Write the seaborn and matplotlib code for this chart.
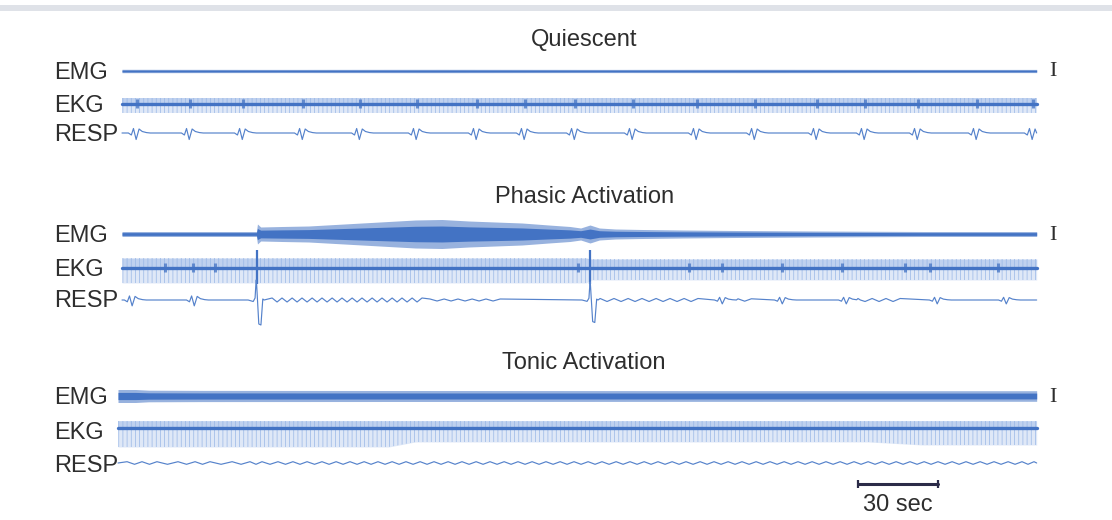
import numpy as np
import pandas as pd
import seaborn as sns
import matplotlib.pyplot as plt

# 기록 길이 (초) - 30 sec 스케일바 기준
t_end = 343
scale_bar_sec = 30

# ---------------- Quiescent ----------------
emg_q_t = [0, 60, 120, 180, 240, 300, 343]
emg_q_amp = [1.7, 1.6, 1.7, 1.6, 1.7, 1.6, 1.6]

ekg_q_t = [0, 343]
ekg_q_top = [6.5, 6.5]
ekg_q_bot = [8.5, 8.5]

resp_q_breaths = [5.6, 25.5, 45.4, 67.9, 89.3, 110.6, 133.1, 151.1, 169.9,
                  191.6, 215.6, 237.4, 260.6, 278.6, 298.5, 320.6, 341.6]
resp_q_amp = [1.0, 1.0, 1.0, 1.0, 1.0, 1.0, 1.0, 1.0, 1.0,
              1.0, 1.0, 1.0, 1.0, 1.0, 1.0, 1.0, 1.0]
ekg_q_marks = resp_q_breaths

# ---------------- Phasic Activation ----------------
emg_p_t = [0, 29, 48, 50.4, 50.8, 52, 60, 70, 80, 90, 100, 110, 120, 130, 140,
           150, 160, 168, 172, 175.5, 179, 185, 195, 210, 230, 260, 300, 343]
emg_p_amp = [2.5, 2.5, 2.5, 2.5, 10, 7, 7.5, 8, 9.5, 11, 12.5, 14, 14.5, 13, 12,
             11, 9, 7.5, 6, 9, 6, 5, 4.5, 4, 3.5, 3, 2.5, 2.5]

ekg_p_t = [0, 174, 176, 343]
ekg_p_top = [10, 10, 9, 9]
ekg_p_bot = [15, 15, 12, 12]
ekg_p_marks = [16.1, 26.6, 34.9, 171.0, 212.6, 225.0, 247.5, 270.0, 293.6, 303.0, 328.5]
ekg_p_spikes = [50.8, 175.5]

resp_p_breaths = [4.1, 27.4, 225.4, 247.9, 271.9, 306.0, 331.9]
resp_p_amp = [0.9, 0.9, 0.6, 0.6, 0.6, 0.6, 0.6]
resp_p_spikes = [50.3, 175.5]
resp_p_spike_amp = [1.0, 0.9]
resp_p_ripples = [
    ([56.3, 60.0, 63.8, 67.5, 71.3, 75.0, 78.8, 82.5, 86.3, 90.0, 93.8, 97.5,
      101.3, 105.0, 108.8, 112.5], 2.0),
    ([115.5, 120.8, 126.0, 131.3, 136.5, 141.8], 1.0),
    ([179.3, 184.5, 189.8, 195.0, 200.3, 205.5, 210.8, 216.0], 1.5),
    ([231.0, 236.0], 1.2),
    ([276.0, 281.3, 286.5, 291.8], 1.5),
]

# ---------------- Tonic Activation ----------------
emg_t_t = [-1.5, 5, 10, 30, 100, 200, 300, 343]
emg_t_amp = [6.5, 6.5, 5.8, 5.6, 5.5, 5.4, 5.3, 5.3]

ekg_t_t = [-1.5, 100, 110, 280, 300, 343]
ekg_t_top = [7, 7, 7, 7, 7, 7]
ekg_t_bot = [19, 19, 14, 14, 17, 17]

resp_t_ripples = [
    ([1.9, 7.5, 13.1, 21.0, 27.4, 33.0, 41.3, 48.0, 52.5, 58.5, 64.1, 69.4, 75.0,
      80.3, 85.5, 90.8, 96.0, 101.3, 106.5, 111.8, 117.0, 122.3, 127.5, 132.8,
      138.0, 143.3, 148.5, 153.8, 159.0, 164.3, 169.5, 174.8, 180.0, 185.3,
      190.5, 195.8, 201.0, 206.3, 211.5, 216.8, 222.0, 227.3, 232.5, 237.8,
      243.0, 248.3, 253.5, 258.8, 264.0, 269.3, 274.5, 279.8, 285.0, 290.3,
      295.5, 300.8, 306.0, 311.3, 316.5, 321.8, 327.0, 332.3, 337.5, 342.0], 1.3),
]

# 호흡 파형 한 번의 모양 (초 오프셋, 진폭)
breath_dt = [-3.2, -2.1, -1.3, -0.3, 0.8, 2.0, 3.6, 5.0]
breath_dy = [0.0, -2.0, 4.5, -6.5, 4.0, 1.5, 0.4, 0.0]
spike_dt = [-3.0, -1.1, -0.4, 0.0, 0.1, 1.0, 1.8, 2.5, 3.0]
spike_dy = [0.0, -1.5, 2.0, 20.0, 20.0, -24.0, -25.0, 1.0, 0.0]

blue = '#4373c4'
resp_blue = '#5582cb'
light = '#98b6e6'
ink = '#2e2e2e'

sns.set_theme(style="white")
plt.rcParams['font.family'] = ['Liberation Sans', 'DejaVu Sans']
plt.rcParams['hatch.linewidth'] = 0.5

px = 0.375  # 초 / 픽셀
fig = plt.figure(figsize=(11.12, 5.2), dpi=100)
ax = fig.add_axes([0, 0, 1, 1])
ax.set_xlim(-122 * px, (1112 - 122) * px)
ax.set_ylim(520, 0)
ax.axis('off')

# 스캔 가장자리 느낌
ax.axhspan(5, 11, color='#dfe2e8', lw=0, zorder=0)


def draw_emg(t, amp, yc):
    t = np.array(t, float)
    a = np.array(amp, float)
    ax.fill_between(t, yc - a, yc + a, color=blue, alpha=0.55, lw=0, zorder=3)
    ax.fill_between(t, yc - 0.55 * a, yc + 0.55 * a, color=blue, lw=0, zorder=3)


def draw_ekg(t, top, bot, yc, marks, spikes=()):
    t = np.array(t, float)
    top = np.array(top, float)
    bot = np.array(bot, float)
    ax.fill_between(t, yc - top, yc + bot, color=light, alpha=0.3, lw=0, zorder=2)
    ax.fill_between(t, yc - top, yc + bot, facecolor='none', edgecolor=light,
                    hatch='||||', lw=0, zorder=2)
    ax.fill_between(t, yc - top, yc + 1, color=light, alpha=0.45, lw=0, zorder=2)
    sns.lineplot(x=[t[0], t[-1]], y=[yc, yc], color=blue, lw=2.4, ax=ax, zorder=3)
    ax.vlines(marks, yc - 5, yc + 4, color=blue, lw=2.2, alpha=0.75, zorder=3)
    if len(spikes):
        ax.vlines(spikes, yc - 18, yc + 16, color=blue, lw=1.6, zorder=3)


def draw_resp(yc, start, breaths=(), b_amp=(), spikes=(), s_amp=(), ripples=()):
    pts = [(start, 0.0)]
    for b, a in zip(breaths, b_amp):
        pts += [(b + dt, a * dy) for dt, dy in zip(breath_dt, breath_dy)]
    for s, a in zip(spikes, s_amp):
        pts += [(s + dt, a * dy) for dt, dy in zip(spike_dt, spike_dy)]
    for peaks, a in ripples:
        for p0, p1 in zip(peaks[:-1], peaks[1:]):
            pts += [(p0, a), ((p0 + p1) / 2, -a)]
        pts.append((peaks[-1], a))
    pts.append((t_end, 0.0))
    pts.sort(key=lambda p: p[0])
    df = pd.DataFrame(pts, columns=['t', 'dy'])
    df = df[(df.t >= start) & (df.t <= t_end)]
    df['y'] = yc - df['dy']
    sns.lineplot(data=df, x='t', y='y', sort=False, estimator=None,
                 color=resp_blue, lw=0.85, ax=ax, zorder=3)


panels = [
    ("Quiescent", 38, 71, 104, 133),
    ("Phasic Activation", 195, 234, 268, 299),
    ("Tonic Activation", 361, 396, 431, 464),
]

# Quiescent
draw_emg(emg_q_t, emg_q_amp, 71)
draw_ekg(ekg_q_t, ekg_q_top, ekg_q_bot, 104, ekg_q_marks)
draw_resp(133, 0, resp_q_breaths, resp_q_amp)

# Phasic
draw_emg(emg_p_t, emg_p_amp, 234)
draw_ekg(ekg_p_t, ekg_p_top, ekg_p_bot, 268, ekg_p_marks, ekg_p_spikes)
draw_resp(300, 0, resp_p_breaths, resp_p_amp, resp_p_spikes, resp_p_spike_amp,
          resp_p_ripples)

# Tonic
draw_emg(emg_t_t, emg_t_amp, 396)
draw_ekg(ekg_t_t, ekg_t_top, ekg_t_bot, 428, [])
draw_resp(463, -1.5, ripples=resp_t_ripples)

# 텍스트 (va=center 보정으로 +2px)
for title, ty, y_emg, y_ekg, y_resp in panels:
    ax.text(173.3, ty + 2, title, fontsize=17, ha='center', va='center', color=ink)
    ax.text(-25.5, y_emg + 2, "EMG", fontsize=17, ha='left', va='center', color=ink)
    ax.text(-25.5, y_ekg + 2, "EKG", fontsize=17, ha='left', va='center', color=ink)
    ax.text(-25.5, y_resp + 2, "RESP", fontsize=17, ha='left', va='center', color=ink)
    ax.text(349, y_emg + 1, "I", family=['Liberation Serif', 'DejaVu Serif'],
            fontsize=16, ha='center', va='center', color=ink)

# 30 sec 스케일바
bar_x0 = 276
ax.plot([bar_x0, bar_x0 + scale_bar_sec], [484, 484], color='#2b2b48', lw=2.2)
ax.vlines([bar_x0, bar_x0 + scale_bar_sec], 480, 488, color='#2b2b48', lw=1.6)
ax.text(bar_x0 + scale_bar_sec / 2, 505, f"{scale_bar_sec} sec", fontsize=17,
        ha='center', va='center', color=ink)

fig.savefig("out.png", dpi=100)
